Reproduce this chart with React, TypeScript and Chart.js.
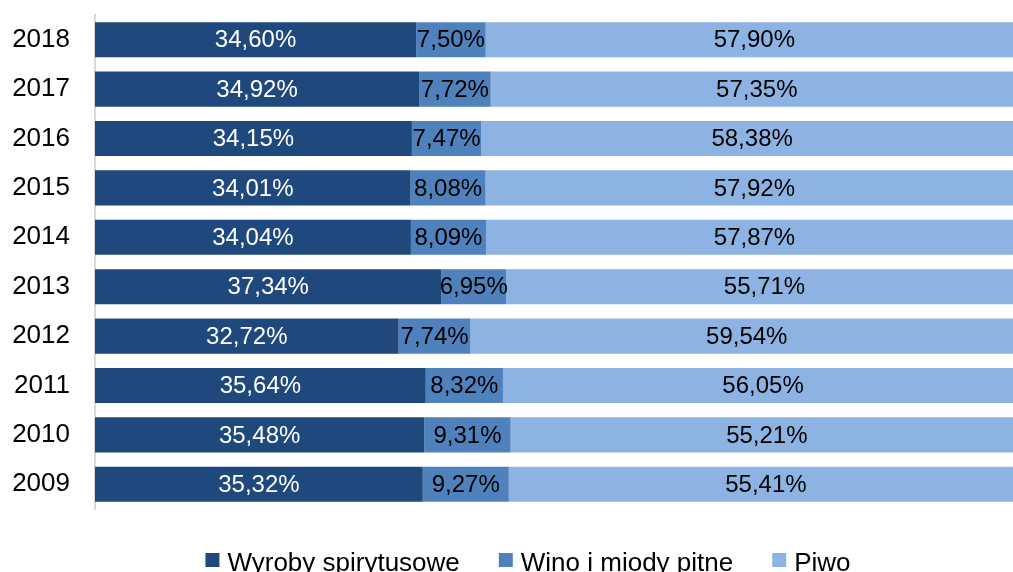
import React, { useEffect, useRef } from "react";
import { Chart, registerables } from "chart.js";

Chart.register(...registerables);

const years = ["2018", "2017", "2016", "2015", "2014", "2013", "2012", "2011", "2010", "2009"];
const spirits = [34.6, 34.92, 34.15, 34.01, 34.04, 37.34, 32.72, 35.64, 35.48, 35.32];
const wine = [7.5, 7.72, 7.47, 8.08, 8.09, 6.95, 7.74, 8.32, 9.31, 9.27];
const beer = [57.9, 57.35, 58.38, 57.92, 57.87, 55.71, 59.54, 56.05, 55.21, 55.41];
const seriesNames = ["Wyroby spirytusowe", "Wino i miody pitne", "Piwo"];
const seriesColors = ["#1F497D", "#4F81BD", "#8DB3E2"];
const labelColors = ["#FFFFFF", "#000000", "#000000"];

const FONT = '"Liberation Sans", Arial, sans-serif';

const fmt = (v: number) => v.toFixed(2).replace(".", ",") + "%";

const dataLabelPlugin = {
  id: "dataLabels",
  afterDatasetsDraw(chart: any) {
    const ctx = chart.ctx;
    ctx.save();
    ctx.font = `24px ${FONT}`;
    ctx.textAlign = "center";
    ctx.textBaseline = "middle";
    chart.data.datasets.forEach((ds: any, i: number) => {
      const meta = chart.getDatasetMeta(i);
      ctx.fillStyle = labelColors[i];
      meta.data.forEach((bar: any, j: number) => {
        const cx = (bar.x + bar.base) / 2;
        ctx.fillText(fmt(ds.data[j]), cx, bar.y + 1);
      });
    });
    ctx.restore();
  },
};

const legendPlugin = {
  id: "customLegend",
  afterDraw(chart: any) {
    const ctx = chart.ctx;
    ctx.save();
    ctx.font = `26px ${FONT}`;
    const box = 14;
    const gapBoxText = 8;
    const gapItems = 39;
    const widths = seriesNames.map((n) => ctx.measureText(n).width);
    const total =
      widths.reduce((a, b) => a + b, 0) + seriesNames.length * (box + gapBoxText) + gapItems * (seriesNames.length - 1);
    let x = 528 - total / 2;
    const baseline = 571;
    ctx.textBaseline = "alphabetic";
    ctx.textAlign = "left";
    seriesNames.forEach((n, i) => {
      ctx.fillStyle = seriesColors[i];
      ctx.fillRect(x, 553, box, box);
      x += box + gapBoxText;
      ctx.fillStyle = "#000000";
      ctx.fillText(n, x, baseline);
      x += widths[i] + gapItems;
    });
    ctx.restore();
  },
};

export default function App() {
  const ref = useRef<HTMLCanvasElement | null>(null);

  useEffect(() => {
    if (!ref.current) return;
    const chart = new Chart(ref.current, {
      type: "bar",
      data: {
        labels: years,
        datasets: [spirits, wine, beer].map((d, i) => ({
          label: seriesNames[i],
          data: d,
          backgroundColor: seriesColors[i],
          borderWidth: 0,
          barPercentage: 0.71,
          categoryPercentage: 1,
        })),
      },
      options: {
        indexAxis: "y",
        responsive: false,
        animation: false,
        devicePixelRatio: 1,
        layout: { padding: { left: 0, right: 7, top: 15, bottom: 63 } },
        plugins: {
          legend: { display: false },
          tooltip: { enabled: false },
        },
        scales: {
          x: {
            stacked: true,
            min: 0,
            max: 100,
            display: false,
          },
          y: {
            stacked: true,
            grid: { display: false, drawTicks: false },
            border: { display: true, color: "#D9D9D9", width: 2 },
            ticks: {
              color: "#000000",
              font: { family: FONT, size: 26 },
              padding: 25,
            },
            afterFit(scale: any) {
              scale.width = 95;
              scale.paddingTop = 0;
              scale.paddingBottom = 0;
            },
          },
        },
      } as any,
      plugins: [dataLabelPlugin, legendPlugin],
    });
    return () => chart.destroy();
  }, []);

  return (
    <div
      style={{
        position: "fixed",
        left: 0,
        top: 0,
        width: 1013,
        height: 572,
        overflow: "hidden",
        background: "#FFFFFF",
      }}
    >
      <canvas ref={ref} width={1030} height={572} style={{ display: "block" }} />
    </div>
  );
}
